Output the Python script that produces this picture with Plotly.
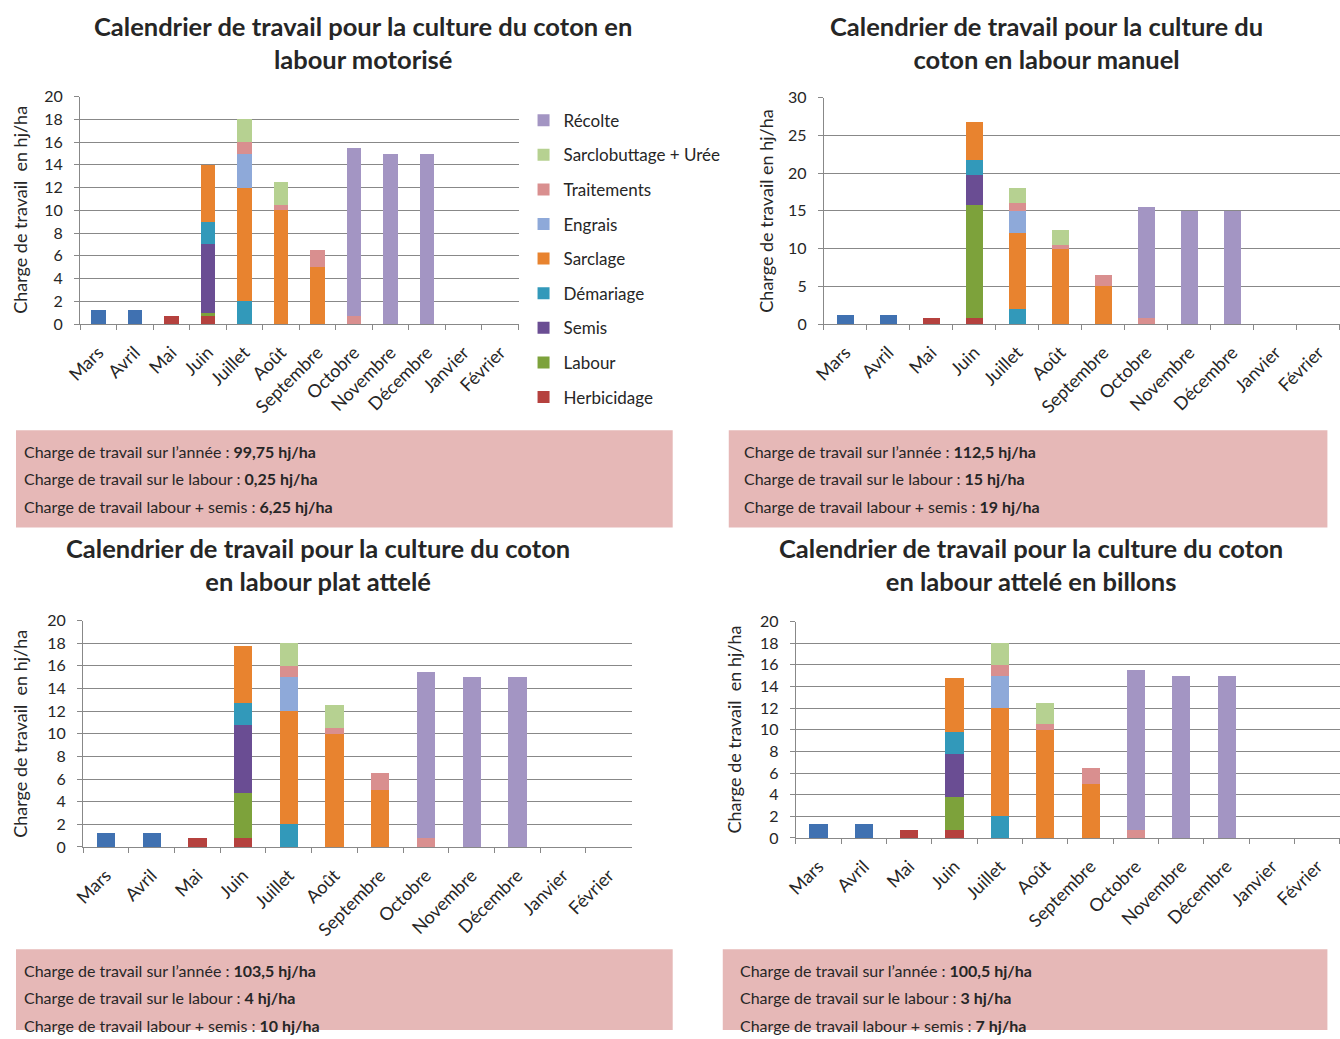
import plotly.graph_objects as go

W, H = 1340, 1039

# Passage des positions de mise en page (px) aux coordonnées papier
AX, BX = 0.987, 16.0
AY, BY = 0.98, 10.5

mois = ["Mars", "Avril", "Mai", "Juin", "Juillet", "Août", "Septembre",
        "Octobre", "Novembre", "Décembre", "Janvier", "Février"]

# Charges de travail (hj/ha) par opération et par mois
preparation   = [1.25, 1.25, 0, 0, 0, 0, 0, 0, 0, 0, 0, 0]
herbicidage   = [0, 0, 0.75, 0.75, 0, 0, 0, 0, 0, 0, 0, 0]
demariage     = [0, 0, 0, 2, 2, 0, 0, 0, 0, 0, 0, 0]
sarclage      = [0, 0, 0, 5, 10, 10, 5, 0, 0, 0, 0, 0]
engrais       = [0, 0, 0, 0, 3, 0, 0, 0, 0, 0, 0, 0]
traitements   = [0, 0, 0, 0, 1, 0.5, 1.5, 0.75, 0, 0, 0, 0]
sarclobuttage = [0, 0, 0, 0, 2, 2, 0, 0, 0, 0, 0, 0]
recolte       = [0, 0, 0, 0, 0, 0, 0, 14.75, 15, 15, 0, 0]

# Labour et semis selon l'itinéraire technique
labour_motorise = [0, 0, 0, 0.25, 0, 0, 0, 0, 0, 0, 0, 0]
semis_motorise  = [0, 0, 0, 6, 0, 0, 0, 0, 0, 0, 0, 0]
labour_manuel   = [0, 0, 0, 15, 0, 0, 0, 0, 0, 0, 0, 0]
semis_manuel    = [0, 0, 0, 4, 0, 0, 0, 0, 0, 0, 0, 0]
labour_plat     = [0, 0, 0, 4, 0, 0, 0, 0, 0, 0, 0, 0]
semis_plat      = [0, 0, 0, 6, 0, 0, 0, 0, 0, 0, 0, 0]
labour_billons  = [0, 0, 0, 3, 0, 0, 0, 0, 0, 0, 0, 0]
semis_billons   = [0, 0, 0, 4, 0, 0, 0, 0, 0, 0, 0, 0]

titres = [
    "Calendrier de travail pour la culture du coton en<br>labour motorisé",
    "Calendrier de travail pour la culture du<br>coton en labour manuel",
    "Calendrier de travail pour la culture du coton<br>en labour plat attelé",
    "Calendrier de travail pour la culture du coton<br>en labour attelé en billons",
]
titres_y = ["Charge de travail  en hj/ha", "Charge de travail en hj/ha",
            "Charge de travail  en hj/ha", "Charge de travail  en hj/ha"]

bilans = [
    ["99,75 hj/ha", "0,25 hj/ha", "6,25 hj/ha"],
    ["112,5 hj/ha", "15 hj/ha", "19 hj/ha"],
    ["103,5 hj/ha", "4 hj/ha", "10 hj/ha"],
    ["100,5 hj/ha", "3 hj/ha", "7 hj/ha"],
]
libelles_bilan = ["Charge de travail sur l\u2019année : ",
                  "Charge de travail sur le labour : ",
                  "Charge de travail labour + semis : "]

couleurs = {
    "Préparation": "#4071B1",
    "Herbicidage": "#B5413E",
    "Labour": "#7DA23B",
    "Semis": "#6A4D93",
    "Démariage": "#3299BA",
    "Sarclage": "#E8832F",
    "Engrais": "#8EA9D9",
    "Traitements": "#D98F8F",
    "Sarclobuttage + Urée": "#B6D191",
    "Récolte": "#A395C3",
}
# Ordre d'affichage dans la légende (Récolte en haut)
rangs = {"Récolte": 1, "Sarclobuttage + Urée": 2, "Traitements": 3,
         "Engrais": 4, "Sarclage": 5, "Démariage": 6, "Semis": 7,
         "Labour": 8, "Herbicidage": 9, "Préparation": 10}

FONT = "Lato"
TXT = "#262626"
GRID = "#888888"

itineraires = [
    (labour_motorise, semis_motorise),
    (labour_manuel, semis_manuel),
    (labour_plat, semis_plat),
    (labour_billons, semis_billons),
]

# Zones de tracé (px) : x gauche, x droite, y haut, y bas
zones = [
    (80, 518, 97, 324),
    (823, 1340, 98, 324),
    (83, 631, 620, 846),
    (795, 1340, 621, 837),
]
echelles = [(20, 2), (30, 5), (20, 2), (20, 2)]


def fx(x):
    p = (x - BX) / AX
    return min(max(p / W, 0), 1)


def fy(y):
    p = (y - BY) / AY
    return min(max(1 - p / H, 0), 1)


fig = go.Figure()

for i, (labour, semis) in enumerate(itineraires):
    n = "" if i == 0 else str(i + 1)
    series = [
        ("Préparation", preparation, False),
        ("Herbicidage", herbicidage, True),
        ("Labour", labour, True),
        ("Semis", semis, True),
        ("Démariage", demariage, True),
        ("Sarclage", sarclage, True),
        ("Engrais", engrais, True),
        ("Traitements", traitements, True),
        ("Sarclobuttage + Urée", sarclobuttage, True),
        ("Récolte", recolte, True),
    ]
    for nom, vals, leg in series:
        fig.add_trace(go.Bar(
            x=mois, y=vals, name=nom,
            marker=dict(color=couleurs[nom], line=dict(width=0)),
            xaxis="x" + n, yaxis="y" + n,
            showlegend=(i == 0 and leg),
            legendgroup=nom, legendrank=rangs[nom],
        ))

    x0, x1, y0, y1 = zones[i]
    ymax, dt = echelles[i]
    fig.update_layout(**{
        "xaxis" + n: dict(
            domain=[fx(x0), fx(x1)], anchor="y" + n,
            type="category", showgrid=False,
            showline=True, linecolor=GRID, linewidth=1,
            ticks="outside", tickson="boundaries", ticklen=5, tickcolor=GRID,
            tickangle=-45, ticklabelstandoff=10,
            tickfont=dict(family=FONT, size=18, color=TXT),
        ),
        "yaxis" + n: dict(
            domain=[fy(y1), fy(y0)], anchor="x" + n,
            range=[0, ymax], dtick=dt, tick0=0,
            showgrid=True, gridcolor=GRID, gridwidth=1,
            showline=True, linecolor=GRID, linewidth=1,
            ticks="outside", ticklen=5, tickcolor=GRID,
            zeroline=False, ticklabelstandoff=8,
            tickfont=dict(family=FONT, size=16, color=TXT),
        ),
    })

annotations = []
shapes = []

# Titres des graphiques
centres_titres = [(363, 43), (1045, 43), (318, 564), (1030, 564)]
for (cx, cy), t in zip(centres_titres, titres):
    annotations.append(dict(
        x=fx(cx), y=fy(cy), xref="paper", yref="paper",
        text="<b>" + t + "</b>", showarrow=False,
        xanchor="center", yanchor="middle",
        font=dict(family=FONT, size=25.5, color=TXT), align="center",
    ))

# Titres des axes verticaux
axes_y = [(20, 210), (765, 211), (20, 733), (733, 729)]
for (ax, ay), ty_txt in zip(axes_y, titres_y):
    annotations.append(dict(
        x=fx(ax), y=fy(ay), xref="paper", yref="paper",
        text=ty_txt, showarrow=False, textangle=-90,
        xanchor="center", yanchor="middle",
        font=dict(family=FONT, size=18, color=TXT),
    ))

# Encadrés de synthèse
cadres = [(10, 672, 430, 527, 22, 451),
          (728, 1326, 430, 527, 741, 451),
          (10, 672, 948, 1039, 22, 969),
          (722, 1326, 948, 1039, 737, 969)]
for (bx0, bx1, by0, by1, tx, ty), vals in zip(cadres, bilans):
    shapes.append(dict(
        type="rect", xref="paper", yref="paper",
        x0=fx(bx0), x1=fx(bx1), y0=fy(by1), y1=fy(by0),
        fillcolor="#E6B8B7", line=dict(width=0), layer="below",
    ))
    for k, (lib, v) in enumerate(zip(libelles_bilan, vals)):
        annotations.append(dict(
            x=fx(tx), y=fy(ty + k * 27.5), xref="paper", yref="paper",
            text=lib + "<b>" + v + "</b>", showarrow=False,
            xanchor="left", yanchor="middle",
            font=dict(family=FONT, size=16, color=TXT),
        ))

fig.update_layout(
    width=W, height=H,
    margin=dict(l=0, r=0, t=0, b=0),
    paper_bgcolor="white", plot_bgcolor="white",
    barmode="stack", bargap=0.6,
    annotations=annotations, shapes=shapes,
    legend=dict(
        x=fx(523), y=fy(103), xanchor="left", yanchor="top",
        traceorder="grouped", tracegroupgap=9.5,
        font=dict(family=FONT, size=17, color=TXT),
        bgcolor="rgba(0,0,0,0)", itemwidth=30,
    ),
    font=dict(family=FONT, color=TXT),
)

fig.write_html("out.html")
